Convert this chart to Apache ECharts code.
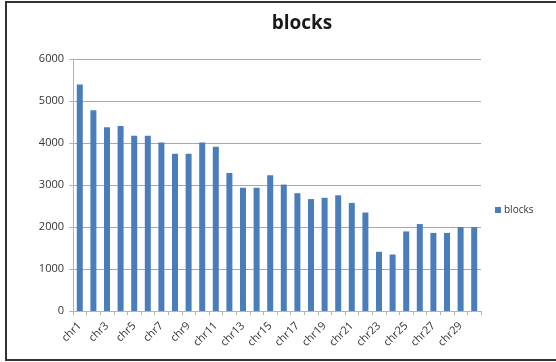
<!DOCTYPE html>
<html>
<head>
<meta charset="utf-8">
<script src="https://cdn.jsdelivr.net/npm/echarts@6/dist/echarts.min.js"></script>
<style>
  html, body { margin: 0; padding: 0; background: #ffffff; }
  #chart { width: 556px; height: 362px; }
</style>
</head>
<body>
<div id="chart"></div>
<script>
// Chromosome names along the x axis
const categories = [
  'chr1', 'chr2', 'chr3', 'chr4', 'chr5', 'chr6', 'chr7', 'chr8', 'chr9', 'chr10',
  'chr11', 'chr12', 'chr13', 'chr14', 'chr15', 'chr16', 'chr17', 'chr18', 'chr19', 'chr20',
  'chr21', 'chr22', 'chr23', 'chr24', 'chr25', 'chr26', 'chr27', 'chr28', 'chr29', 'chr30'
];

// Number of blocks per chromosome
const blocks = [
  5390, 4780, 4375, 4405, 4175, 4175, 4010, 3745, 3745, 4010,
  3910, 3285, 2935, 2935, 3230, 3010, 2805, 2665, 2695, 2755,
  2575, 2345, 1410, 1345, 1895, 2070, 1860, 1860, 2000, 2000
];

// Value axis ticks
const yTicks = [0, 1000, 2000, 3000, 4000, 5000, 6000];

const chart = echarts.init(document.getElementById('chart'), null, { renderer: 'canvas' });

chart.setOption({
  backgroundColor: '#ffffff',
  animation: false,
  title: {
    text: 'blocks',
    left: 297,
    top: 9,
    textAlign: 'center',
    textStyle: {
      fontFamily: 'Open Sans',
      fontWeight: 'bold',
      fontSize: 19,
      color: '#1a1a1a'
    }
  },
  legend: {
    data: ['blocks'],
    orient: 'vertical',
    left: 490,
    top: 200,
    itemWidth: 6,
    itemHeight: 6,
    itemGap: 4,
    icon: 'rect',
    textStyle: {
      fontFamily: 'Open Sans',
      fontSize: 10,
      color: '#333333',
      padding: [0, 0, 0, -2]
    }
  },
  grid: {
    left: 73,
    right: 75,
    top: 59,
    bottom: 51,
    containLabel: false
  },
  xAxis: {
    type: 'category',
    data: categories,
    boundaryGap: true,
    axisLine: { show: true, lineStyle: { color: '#b4b4b4', width: 1 } },
    axisTick: {
      show: true,
      alignWithLabel: false,
      interval: 0,
      length: 4,
      lineStyle: { color: '#b4b4b4' }
    },
    axisLabel: {
      interval: 1,
      rotate: 45,
      margin: 13,
      fontFamily: 'Open Sans',
      fontSize: 11,
      color: '#333333'
    },
    splitLine: { show: false }
  },
  yAxis: {
    type: 'value',
    min: yTicks[0],
    max: yTicks[yTicks.length - 1],
    interval: yTicks[1] - yTicks[0],
    axisLine: { show: true, lineStyle: { color: '#b4b4b4', width: 1 } },
    axisTick: { show: true, length: 4, lineStyle: { color: '#b4b4b4' } },
    axisLabel: {
      margin: 9,
      fontFamily: 'Open Sans',
      fontSize: 11,
      color: '#333333',
      formatter: (v) => String(v)
    },
    splitLine: { show: true, lineStyle: { color: '#a8a8a8', width: 1 } }
  },
  series: [{
    name: 'blocks',
    type: 'bar',
    data: blocks,
    barWidth: 6,
    itemStyle: { color: '#4a7ebb' }
  }],
  graphic: [{
    type: 'rect',
    shape: { x: 6, y: 2, width: 560, height: 358 },
    style: { fill: 'none', stroke: '#333333', lineWidth: 2 },
    silent: true
  }]
});
</script>
</body>
</html>
